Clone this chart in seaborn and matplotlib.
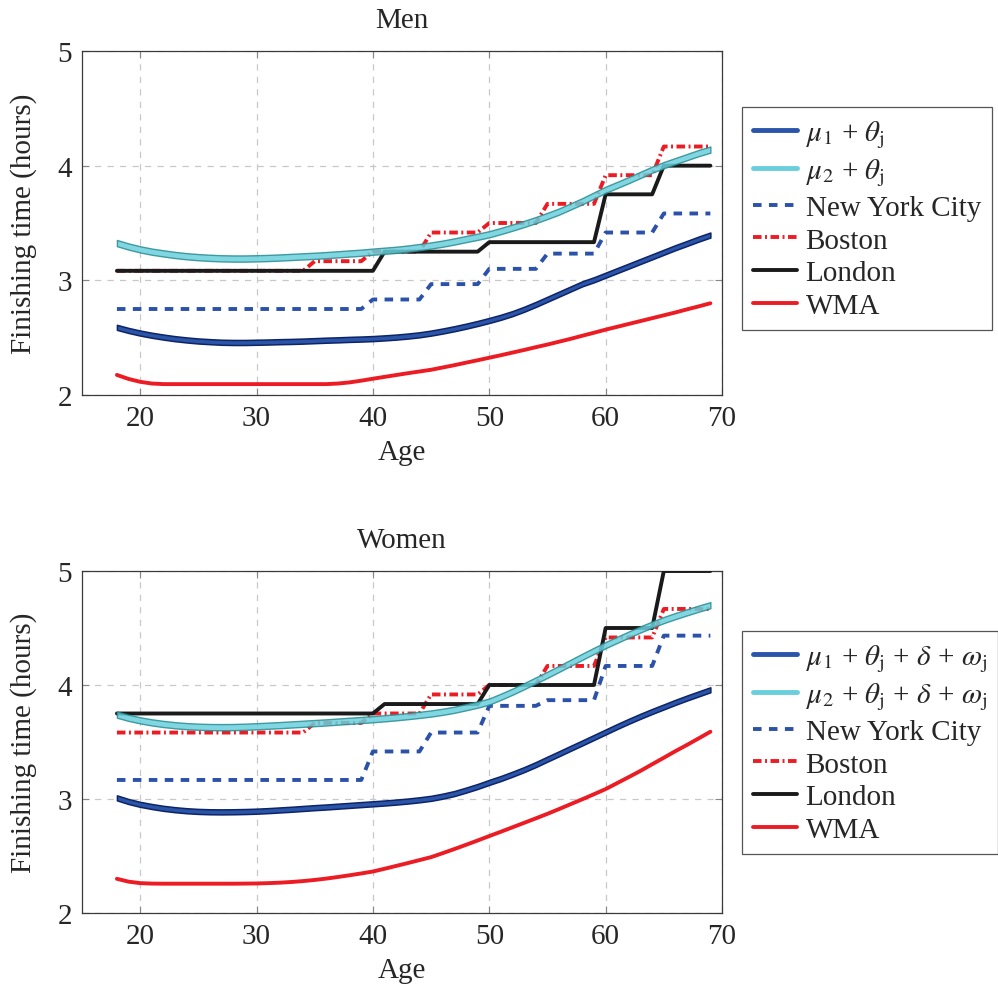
import numpy as np
import matplotlib
matplotlib.use("Agg")
import matplotlib.pyplot as plt
import seaborn as sns
from matplotlib.lines import Line2D

# ---------------- data ----------------
ages = list(range(18, 70))

men_mu1 = [2.590, 2.563, 2.540, 2.521, 2.505, 2.491, 2.480, 2.471, 2.465, 2.460,
           2.458, 2.458, 2.460, 2.462, 2.465, 2.467, 2.470, 2.474, 2.478, 2.481,
           2.485, 2.488, 2.492, 2.498, 2.505, 2.514, 2.525, 2.540, 2.558, 2.578,
           2.600, 2.624, 2.650, 2.678, 2.710, 2.748, 2.790, 2.835, 2.880, 2.925,
           2.970, 3.005, 3.045, 3.085, 3.125, 3.165, 3.205, 3.245, 3.285, 3.322,
           3.360, 3.395]
men_mu2 = [3.325, 3.295, 3.270, 3.250, 3.235, 3.221, 3.210, 3.202, 3.196, 3.192,
           3.190, 3.190, 3.192, 3.195, 3.199, 3.204, 3.209, 3.214, 3.220, 3.227,
           3.234, 3.241, 3.250, 3.258, 3.266, 3.277, 3.290, 3.304, 3.320, 3.339,
           3.360, 3.380, 3.402, 3.430, 3.460, 3.492, 3.525, 3.562, 3.600, 3.645,
           3.690, 3.740, 3.790, 3.832, 3.875, 3.920, 3.965, 4.005, 4.040, 4.075,
           4.110, 4.140]
men_wma = [2.175, 2.140, 2.115, 2.100, 2.095, 2.095, 2.095, 2.095, 2.095, 2.095,
           2.095, 2.095, 2.095, 2.095, 2.095, 2.095, 2.095, 2.095, 2.095, 2.100,
           2.110, 2.125, 2.142, 2.158, 2.174, 2.190, 2.205, 2.220, 2.240, 2.260,
           2.282, 2.303, 2.325, 2.347, 2.370, 2.393, 2.417, 2.440, 2.465, 2.490,
           2.517, 2.543, 2.570, 2.595, 2.620, 2.645, 2.670, 2.695, 2.720, 2.747,
           2.773, 2.800]

women_mu1 = [3.010, 2.978, 2.953, 2.934, 2.918, 2.906, 2.897, 2.891, 2.888, 2.887,
             2.888, 2.890, 2.893, 2.898, 2.904, 2.910, 2.917, 2.924, 2.930, 2.937,
             2.944, 2.951, 2.958, 2.965, 2.973, 2.982, 2.993, 3.006, 3.025, 3.048,
             3.078, 3.110, 3.146, 3.180, 3.218, 3.258, 3.302, 3.350, 3.397, 3.445,
             3.492, 3.540, 3.588, 3.636, 3.682, 3.726, 3.768, 3.808, 3.848, 3.886,
             3.922, 3.958]
women_mu2 = [3.740, 3.712, 3.690, 3.672, 3.658, 3.647, 3.639, 3.634, 3.631, 3.630,
             3.631, 3.634, 3.638, 3.643, 3.648, 3.654, 3.660, 3.666, 3.672, 3.679,
             3.686, 3.693, 3.700, 3.708, 3.717, 3.727, 3.738, 3.750, 3.765, 3.783,
             3.805, 3.828, 3.855, 3.897, 3.942, 3.990, 4.040, 4.090, 4.142, 4.195,
             4.248, 4.300, 4.350, 4.397, 4.443, 4.488, 4.530, 4.570, 4.605, 4.638,
             4.670, 4.700]
women_wma = [2.300, 2.275, 2.262, 2.258, 2.257, 2.257, 2.257, 2.257, 2.257, 2.257,
             2.257, 2.258, 2.259, 2.262, 2.266, 2.272, 2.280, 2.290, 2.302, 2.316,
             2.331, 2.347, 2.364, 2.388, 2.413, 2.438, 2.464, 2.490, 2.525, 2.561,
             2.598, 2.636, 2.675, 2.713, 2.752, 2.791, 2.830, 2.870, 2.912, 2.955,
             2.998, 3.042, 3.087, 3.140, 3.193, 3.247, 3.305, 3.362, 3.420, 3.475,
             3.532, 3.590]

# qualifying standards: first age of each age group and its time (hours)
nyc_starts = [18, 40, 45, 50, 55, 60, 65]
nyc_men = [2.750, 2.833, 2.967, 3.100, 3.233, 3.417, 3.583]
nyc_women = [3.167, 3.417, 3.583, 3.817, 3.867, 4.167, 4.433]

boston_starts = [18, 35, 40, 45, 50, 55, 60, 65]
boston_men = [3.083, 3.167, 3.250, 3.417, 3.500, 3.667, 3.917, 4.167]
boston_women = [3.583, 3.667, 3.750, 3.917, 4.000, 4.167, 4.417, 4.667]

london_starts = [18, 41, 50, 60, 65]
london_men = [3.083, 3.250, 3.333, 3.750, 4.000]
london_women = [3.750, 3.833, 4.000, 4.500, 5.000]

x_ticks = [20, 30, 40, 50, 60, 70]
y_ticks = [2, 3, 4, 5]

labels_men = [r"$\mu_1$ + $\theta_{\mathrm{j}}$", r"$\mu_2$ + $\theta_{\mathrm{j}}$",
              "New York City", "Boston", "London", "WMA"]
labels_women = [r"$\mu_1$ + $\theta_{\mathrm{j}}$ + $\delta$ + $\omega_{\mathrm{j}}$",
                r"$\mu_2$ + $\theta_{\mathrm{j}}$ + $\delta$ + $\omega_{\mathrm{j}}$",
                "New York City", "Boston", "London", "WMA"]

# ---------------- style ----------------
sns.set_theme(style="white")
plt.rcParams["font.family"] = ["Liberation Serif", "DejaVu Serif"]
plt.rcParams["mathtext.fontset"] = "stix"
FS = 21
plt.rcParams["font.size"] = FS

C_MU1 = "#2a55a8"
C_MU1_EDGE = "#0e2466"
C_MU2 = "#6acfdc"
C_MU2_EDGE = "#2a8c92"
C_NYC = "#2b52a8"
C_RED = "#ec1c24"
C_BLACK = "#1a1a1a"


def expand(starts, vals):
    idx = np.searchsorted(starts, ages, side="right") - 1
    return np.asarray(vals)[idx]


def draw_panel(ax, title, mu1, mu2, nyc, boston, london, wma):
    a = np.asarray(ages)
    common = dict(ax=ax, estimator=None, errorbar=None, legend=False)
    sns.lineplot(x=a, y=expand(nyc_starts, nyc), color=C_NYC, lw=2.8,
                 linestyle=(0, (2.2, 1.9)), zorder=3, **common)
    sns.lineplot(x=a, y=expand(boston_starts, boston), color=C_RED, lw=2.8,
                 linestyle=(0, (2.2, 0.9, 0.5, 0.9)), zorder=3, **common)
    sns.lineplot(x=a, y=expand(london_starts, london), color=C_BLACK, lw=2.8,
                 zorder=4, **common)
    sns.lineplot(x=a, y=np.asarray(wma), color=C_RED, lw=2.8, zorder=4, **common)

    m1 = np.asarray(mu1)
    ax.fill_between(a, m1 - 0.022, m1 + 0.022, facecolor=C_MU1,
                    edgecolor=C_MU1_EDGE, lw=1.1, zorder=5)
    m2 = np.asarray(mu2)
    ax.fill_between(a, m2 - 0.027, m2 + 0.027, facecolor=C_MU2,
                    edgecolor=C_MU2_EDGE, lw=1.0, alpha=0.85, zorder=5)

    ax.set_xlim(15, 70)
    ax.set_ylim(2, 5)
    ax.set_xticks(x_ticks)
    ax.set_yticks(y_ticks)
    ax.grid(True, color="#c8c8c8", linestyle=(0, (5, 5)), lw=0.9)
    ax.set_axisbelow(True)
    for s in ax.spines.values():
        s.set_color("#3a3a3a")
        s.set_linewidth(0.9)
        s.set_visible(True)
    ax.tick_params(direction="in", length=5, width=0.8, color="#888888",
                   top=True, right=True, bottom=True, left=True,
                   labelsize=FS, pad=7)
    ax.set_xlabel("Age", fontsize=FS, labelpad=6)
    ax.set_ylabel("Finishing time (hours)", fontsize=FS, labelpad=15)
    ax.set_title(title, fontsize=FS, pad=17)

    handles = [
        Line2D([], [], color=C_MU1, lw=3.5),
        Line2D([], [], color=C_MU2, lw=3.5),
        Line2D([], [], color=C_NYC, lw=2.8, linestyle=(0, (2.2, 1.9))),
        Line2D([], [], color=C_RED, lw=2.8, linestyle=(0, (2.2, 0.9, 0.5, 0.9))),
        Line2D([], [], color=C_BLACK, lw=2.8),
        Line2D([], [], color=C_RED, lw=2.8),
    ]
    return handles


fig = plt.figure(figsize=(9.98, 9.95), dpi=100)
ax1 = fig.add_axes([82 / 998, 1 - 396 / 995, 640 / 998, 344 / 995])
ax2 = fig.add_axes([82 / 998, 1 - 914 / 995, 640 / 998, 342 / 995])

h1 = draw_panel(ax1, "Men", men_mu1, men_mu2, nyc_men, boston_men,
                london_men, men_wma)
h2 = draw_panel(ax2, "Women", women_mu1, women_mu2, nyc_women, boston_women,
                london_women, women_wma)

leg_kw = dict(loc="upper left", frameon=True, fancybox=False, framealpha=1,
              edgecolor="#555555", fontsize=FS, handlelength=1.5,
              handletextpad=0.3, labelspacing=0.22, borderpad=0.38,
              borderaxespad=0)
l1 = fig.legend(h1, labels_men, bbox_to_anchor=(742 / 998, 1 - 108 / 995), **leg_kw)
l2 = fig.legend(h2, labels_women, bbox_to_anchor=(742 / 998, 1 - 632 / 995), **leg_kw)
for l in (l1, l2):
    l.get_frame().set_linewidth(0.9)

fig.savefig("out.png", dpi=100)
